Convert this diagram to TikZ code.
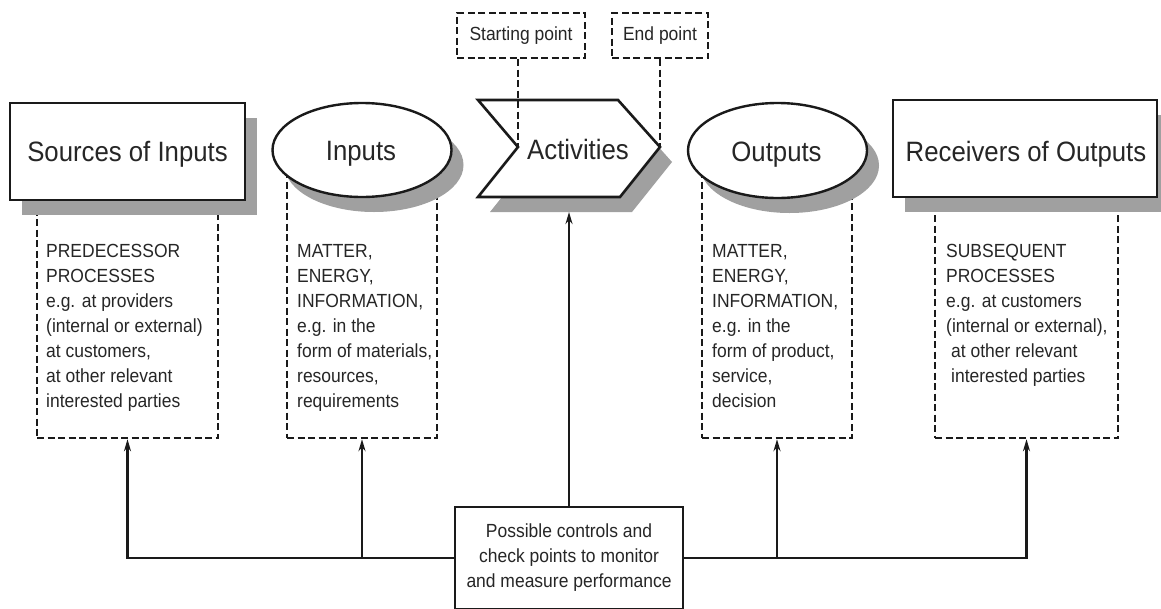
\documentclass[tikz,border=0pt]{standalone}
\usepackage{fontspec}
\setmainfont[FakeStretch=0.92]{Liberation Sans}
\usetikzlibrary{shadows,arrows.meta,shapes.geometric}
\definecolor{ink}{HTML}{1A1A1A}
\definecolor{txt}{HTML}{262626}
\definecolor{shad}{HTML}{A0A0A0}
\begin{document}
\begin{tikzpicture}[x=1pt,y=-1pt,
  shadowed/.style={drop shadow={shadow xshift=12pt,shadow yshift=-15pt,fill=shad,opacity=1}},
  titlebox/.style={draw=ink,line width=2.6pt,fill=white,inner sep=0,shadowed},
  titleell/.style={ellipse,draw=ink,line width=2.4pt,fill=white,inner sep=0,shadowed},
  titletext/.style={anchor=base,inner sep=0,text=txt,font=\fontsize{28}{30}\selectfont},
  dbox/.style={draw=ink,line width=2.4pt,dash pattern=on 7pt off 3.5pt,inner sep=0},
  dline/.style={draw=ink,line width=2.4pt,dash pattern=on 7pt off 3.5pt},
  body/.style={anchor=base west,inner sep=0,text=txt,font=\fontsize{19}{25}\selectfont},
  small/.style={text=txt,font=\fontsize{19}{25}\selectfont},
  conn/.style={draw=ink,line width=2.4pt,-{Stealth[length=12pt,width=7pt]}}]
\clip (0,0) rectangle (1161,608);
\fill[white] (0,0) rectangle (1161,608);

% dashed description boxes
\node[dbox,minimum width=181,minimum height=233] (sd) at (127.5,321.5) {};
\node[dbox,minimum width=150,minimum height=288] (id) at (362,294) {};
\node[dbox,minimum width=150,minimum height=288] (od) at (777,294) {};
\node[dbox,minimum width=183,minimum height=233] (rd) at (1026.5,321.5) {};

% title shapes
\node[titlebox,minimum width=235,minimum height=97] (src) at (127.5,151.5) {};
\node[titletext] (srct) at (127.5,161) {Sources of Inputs};
\node[titleell,minimum width=179,minimum height=94] (inp) at (362,150) {};
\node[titletext] (inpt) at (361,160) {Inputs};
\node[titleell,minimum width=179,minimum height=95] (out) at (777.5,150.5) {};
\node[titletext] (outt) at (776.5,161) {Outputs};
\node[titlebox,minimum width=264,minimum height=97] (rec) at (1025,148.5) {};
\node[titletext] (rect) at (1026,161) {Receivers of Outputs};

% activities chevron
\fill[shad,shift={(12,15)}] (478,100) -- (618,100) -- (660,147) -- (620,197) -- (478,197) -- (518,147) -- cycle;
\draw[ink,line width=2.6pt,fill=white,line join=miter] (478,100) -- (618,100) -- (660,147) -- (620,197) -- (478,197) -- (518,147) -- cycle;
\node[titletext] (act) at (578,159) {Activities};
\coordinate (notch) at (518,147);
\coordinate (tip) at (660,147);
\coordinate (actb) at (569,212);

% starting / end point
\node[dbox,minimum width=128,minimum height=45,small] (sp) at (521,35.5) {Starting point};
\node[dbox,minimum width=96,minimum height=45,small] (ep) at (660,35.5) {End point};
\draw[dline] (notch |- sp.south) -- (notch);
\draw[dline] (ep.south) -- (tip);

% description texts
\node[body] (sdt) at (46,257) {\parbox[t]{170pt}{\raggedright PREDECESSOR\\PROCESSES\\e.g. at providers\\(internal or external)\\at customers,\\at other relevant\\interested parties}};
\node[body] (idt) at (297,257) {\parbox[t]{150pt}{\raggedright MATTER,\\ENERGY,\\INFORMATION,\\e.g. in the\\form of materials,\\resources,\\requirements}};
\node[body] (odt) at (712,257) {\parbox[t]{150pt}{\raggedright MATTER,\\ENERGY,\\INFORMATION,\\e.g. in the\\form of product,\\service,\\decision}};
\node[body] (rdt) at (946,257) {\parbox[t]{180pt}{\raggedright SUBSEQUENT\\PROCESSES\\e.g. at customers\\(internal or external),\\\hspace*{5pt}at other relevant\\\hspace*{5pt}interested parties}};

% control box
\node[draw=ink,line width=2.4pt,fill=white,minimum width=228,minimum height=102,inner sep=0,align=center,small] (ctrl) at (569,558)
  {Possible controls and\\check points to monitor\\and measure performance};

% connectors
\draw[conn] (ctrl.north) -- (actb);
\draw[conn] (ctrl.west) -| (sd.south);
\draw[conn] (ctrl.west -| id.south) -- (id.south);
\draw[conn] (ctrl.east) -| (rd.south);
\draw[conn] (ctrl.east -| od.south) -- (od.south);
\end{tikzpicture}
\end{document}
